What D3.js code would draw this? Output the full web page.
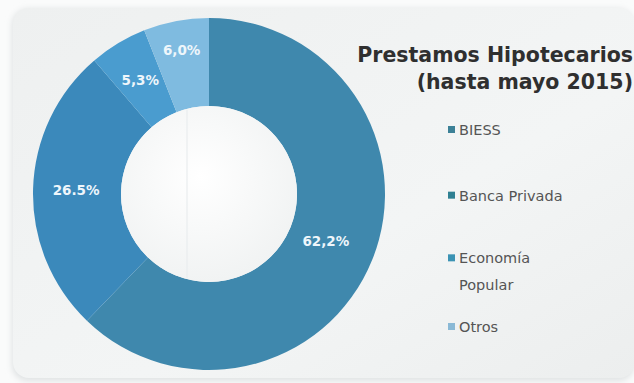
<!DOCTYPE html>
<html>
<head>
<meta charset="utf-8">
<script src="https://cdn.jsdelivr.net/npm/d3@7"></script>
<style>
  html, body { margin: 0; padding: 0; background: #fafbfb; }
  svg { display: block; }
</style>
</head>
<body>
<svg id="chart" width="634" height="383"></svg>
<script>
// Mortgage lending share by lender type, through May 2015
const categories = ["BIESS", "Banca Privada", "Economía Popular", "Otros"];
const shares = [62.2, 26.5, 5.3, 6.0];
const valueLabels = ["62,2%", "26.5%", "5,3%", "6,0%"];
const legendLines = [["BIESS"], ["Banca Privada"], ["Economía", "Popular"], ["Otros"]];
const titleLines = ["Prestamos Hipotecarios", "(hasta mayo 2015)"];

const sliceColors = ["#3f88ad", "#3b89bb", "#4a9ccf", "#7fbbe0"];
const markerColors = ["#3c8197", "#2f8092", "#3b93b4", "#8ab9d6"];
const labelRadius = [126, 133, 133, 146];

const cx = 209, cy = 194, outerR = 176, innerR = 88;
const font = "'DejaVu Sans', Verdana, sans-serif";

const svg = d3.select("#chart");
const defs = svg.append("defs");

// card background
const bg = defs.append("linearGradient").attr("id", "cardGrad")
  .attr("x1", 0).attr("y1", 0).attr("x2", 1).attr("y2", 1);
bg.append("stop").attr("offset", "0%").attr("stop-color", "#eef0f0");
bg.append("stop").attr("offset", "60%").attr("stop-color", "#f3f5f5");
bg.append("stop").attr("offset", "100%").attr("stop-color", "#eceeee");

const shadow = defs.append("filter").attr("id", "cardShadow")
  .attr("x", "-5%").attr("y", "-5%").attr("width", "110%").attr("height", "110%");
shadow.append("feGaussianBlur").attr("stdDeviation", 3);

svg.append("rect").attr("x", 12).attr("y", 9).attr("width", 622).attr("height", 372)
  .attr("rx", 16).attr("fill", "#dfe2e3").attr("filter", "url(#cardShadow)");
svg.append("rect").attr("x", 13).attr("y", 8).attr("width", 622).attr("height", 370)
  .attr("rx", 16).attr("fill", "url(#cardGrad)");

// donut
const pie = d3.pie().sort(null).value(d => d);
const arcs = pie(shares);
const arc = d3.arc().innerRadius(innerR).outerRadius(outerR);

const g = svg.append("g").attr("transform", `translate(${cx},${cy})`);
g.selectAll("path.slice").data(arcs).join("path")
  .attr("class", "slice")
  .attr("d", arc)
  .attr("fill", (d, i) => sliceColors[i]);

// hole
const hole = defs.append("radialGradient").attr("id", "holeGrad")
  .attr("cx", "45%").attr("cy", "40%").attr("r", "60%");
hole.append("stop").attr("offset", "0%").attr("stop-color", "#ffffff");
hole.append("stop").attr("offset", "100%").attr("stop-color", "#f1f3f3");
g.append("circle").attr("r", innerR).attr("fill", "url(#holeGrad)");

// faint vertical fold across the hole
g.append("line").attr("x1", -22).attr("x2", -22).attr("y1", -innerR + 4).attr("y2", innerR - 4)
  .attr("stroke", "#eaedef").attr("stroke-width", 1.2);

// value labels
g.selectAll("text.val").data(arcs).join("text")
  .attr("class", "val")
  .attr("transform", (d, i) => {
    const c = d3.arc().innerRadius(labelRadius[i]).outerRadius(labelRadius[i]).centroid(d);
    return `translate(${c[0]},${c[1]})`;
  })
  .attr("text-anchor", "middle")
  .attr("dy", "0.35em")
  .attr("fill", "#eef6fb")
  .attr("font-family", font)
  .attr("font-weight", "bold")
  .attr("font-size", 13.5)
  .text((d, i) => valueLabels[i]);

// title
const title = svg.append("text")
  .attr("text-anchor", "end")
  .attr("font-family", font)
  .attr("font-weight", "bold")
  .attr("font-size", 20.5)
  .attr("fill", "#2f2f2f");
titleLines.forEach((t, i) => {
  title.append("tspan").attr("x", 633).attr("y", 62 + i * 27).text(t);
});

// legend
const legendY = d3.scalePoint().domain(categories).range([130, 327]);
const lg = svg.append("g");
categories.forEach((c, i) => {
  const y = legendY(c);
  const shift = legendLines[i].length > 1 ? -3 : 0;
  lg.append("rect").attr("x", 448).attr("y", y + shift - 4).attr("width", 7).attr("height", 7)
    .attr("fill", markerColors[i]);
  const t = lg.append("text")
    .attr("font-family", font)
    .attr("font-size", 14.5)
    .attr("fill", "#555");
  legendLines[i].forEach((line, k) => {
    t.append("tspan").attr("x", 459).attr("y", y + shift + k * 27).attr("dy", "0.35em").text(line);
  });
});
</script>
</body>
</html>
